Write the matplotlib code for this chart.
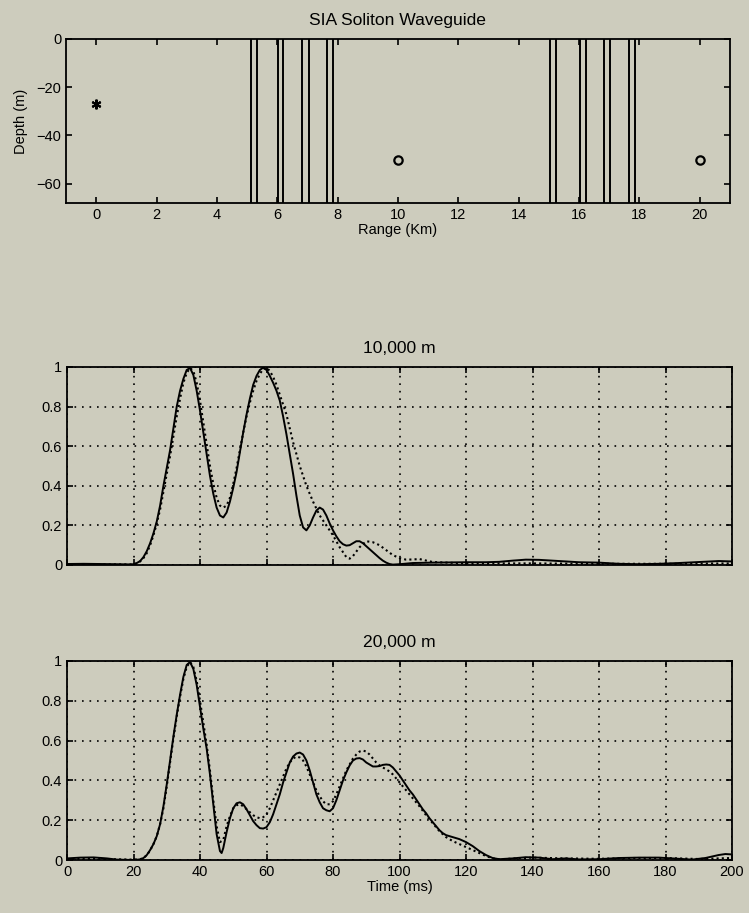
#!/usr/bin/env python3
"""SIA soliton waveguide geometry plus normalised arrivals at 10 km and 20 km."""

import matplotlib
matplotlib.use("Agg")
import matplotlib.pyplot as plt

# ---------------------------------------------------------------------------
# Data
# ---------------------------------------------------------------------------

# geometry panel
SOLITON_KM = [5.12, 5.33, 6.01, 6.20, 6.83, 7.05, 7.66, 7.86,
              15.02, 15.22, 16.04, 16.22, 16.83, 17.03, 17.65, 17.85]
SOURCE_RANGE = [0.0]
SOURCE_DEPTH = [-27.0]
RECEIVER_RANGE = [10.0, 20.0]
RECEIVER_DEPTH = [-50.0, -50.0]
RANGE_TICKS = [0, 2, 4, 6, 8, 10, 12, 14, 16, 18, 20]
DEPTH_TICKS = [-60, -40, -20, 0]
DEPTH_MIN = -68

# 10,000 m, solid
t10_solid = [0, 5, 10, 15, 19, 20, 21, 22, 23, 24, 25, 26, 27, 28, 29, 30,
             31, 32, 33, 34, 35, 36, 37, 38, 39, 40, 41, 42, 43, 44, 45, 46,
             47, 48, 49, 50, 51, 52, 53, 54, 55, 56, 57, 58, 59, 60, 61, 62,
             63, 64, 65, 66, 67, 68, 69, 70, 71, 72, 73, 74, 75, 76, 77, 78,
             79, 80, 81, 82, 83, 84, 85, 86, 87, 88, 89, 90, 91, 92, 93, 94,
             95, 96, 97, 98, 100, 104, 110, 120, 126, 130, 134, 138, 142, 148,
             154, 160, 166, 172, 178, 184, 190, 196, 200]
a10_solid = [0.005, 0.006, 0.005, 0.004, 0.003, 0.004, 0.01, 0.02, 0.04, 0.07,
             0.11, 0.16, 0.22, 0.30, 0.40, 0.49, 0.58, 0.69, 0.80, 0.88, 0.94,
             0.985, 0.995, 0.96, 0.88, 0.78, 0.67, 0.56, 0.45, 0.36, 0.29,
             0.25, 0.24, 0.265, 0.32, 0.39, 0.47, 0.57, 0.67, 0.76, 0.84, 0.91,
             0.955, 0.985, 0.997, 0.985, 0.955, 0.92, 0.88, 0.83, 0.75, 0.66,
             0.56, 0.46, 0.35, 0.25, 0.19, 0.175, 0.20, 0.24, 0.275, 0.29,
             0.28, 0.25, 0.21, 0.175, 0.145, 0.12, 0.105, 0.098, 0.10, 0.11,
             0.12, 0.12, 0.11, 0.095, 0.08, 0.065, 0.05, 0.035, 0.022, 0.012,
             0.005, 0.002, 0.004, 0.01, 0.012, 0.014, 0.014, 0.016, 0.022,
             0.027, 0.026, 0.02, 0.014, 0.012, 0.006, 0.004, 0.006, 0.01,
             0.015, 0.02, 0.018]

# 10,000 m, dotted
t10_dot = [0, 10, 20, 21, 22, 23, 24, 25, 26, 27, 28, 29, 30, 31, 32, 33, 34,
           35, 36, 37, 38, 39, 40, 41, 42, 43, 44, 45, 46, 47, 48, 49, 50, 51,
           52, 53, 54, 55, 56, 57, 58, 59, 60, 61, 62, 63, 64, 65, 66, 67, 68,
           69, 70, 71, 72, 74, 76, 78, 80, 82, 84, 85, 86, 88, 90, 92, 94, 96,
           98, 100, 102, 104, 106, 110, 120, 140, 160, 180, 200]
a10_dot = [0.003, 0.003, 0.003, 0.008, 0.018, 0.035, 0.06, 0.10, 0.15, 0.21,
           0.28, 0.37, 0.46, 0.55, 0.65, 0.75, 0.84, 0.92, 0.97, 0.995, 0.98,
           0.92, 0.83, 0.72, 0.61, 0.50, 0.41, 0.34, 0.30, 0.29, 0.30, 0.34,
           0.41, 0.49, 0.58, 0.67, 0.75, 0.82, 0.88, 0.93, 0.965, 0.99, 0.997,
           0.98, 0.95, 0.91, 0.86, 0.81, 0.76, 0.69, 0.62, 0.56, 0.50, 0.45,
           0.40, 0.32, 0.25, 0.20, 0.15, 0.09, 0.04, 0.032, 0.045, 0.09, 0.12,
           0.115, 0.10, 0.075, 0.05, 0.035, 0.027, 0.028, 0.03, 0.015, 0.008,
           0.008, 0.006, 0.006, 0.008]

# 20,000 m, solid
t20_solid = [0, 4, 8, 12, 15, 20, 22, 23, 24, 25, 26, 27, 28, 29, 30, 31, 32,
             33, 34, 35, 36, 37, 38, 39, 40, 41, 42, 43, 44, 45, 46, 46.5, 47,
             48, 49, 50, 51, 52, 53, 54, 55, 56, 57, 58, 59, 60, 61, 62, 63,
             64, 65, 66, 67, 68, 69, 70, 71, 72, 73, 74, 75, 76, 77, 78, 79,
             80, 81, 82, 83, 84, 85, 86, 87, 88, 89, 90, 91, 92, 93, 94, 95,
             96, 97, 98, 99, 100, 101, 102, 103, 104, 105, 106, 107, 108, 109,
             110, 111, 112, 113, 114, 116, 118, 120, 122, 124, 126, 128, 130,
             134, 138, 142, 146, 150, 154, 160, 166, 172, 178, 184, 188, 192,
             196, 198, 200]
a20_solid = [0.008, 0.012, 0.013, 0.008, 0.002, 0.0, 0.003, 0.01, 0.025, 0.05,
             0.08, 0.12, 0.18, 0.27, 0.38, 0.50, 0.62, 0.73, 0.83, 0.92, 0.98,
             0.995, 0.96, 0.88, 0.77, 0.66, 0.56, 0.43, 0.28, 0.13, 0.045,
             0.035, 0.06, 0.14, 0.21, 0.26, 0.285, 0.29, 0.28, 0.255, 0.225,
             0.195, 0.175, 0.16, 0.158, 0.165, 0.19, 0.23, 0.28, 0.33, 0.39,
             0.44, 0.49, 0.52, 0.535, 0.54, 0.53, 0.50, 0.45, 0.39, 0.33, 0.29,
             0.26, 0.25, 0.245, 0.26, 0.30, 0.35, 0.40, 0.44, 0.475, 0.50,
             0.51, 0.512, 0.505, 0.49, 0.48, 0.47, 0.47, 0.472, 0.478, 0.48,
             0.478, 0.465, 0.445, 0.425, 0.40, 0.375, 0.35, 0.33, 0.305, 0.28,
             0.255, 0.235, 0.21, 0.19, 0.17, 0.15, 0.135, 0.125, 0.115, 0.105,
             0.09, 0.07, 0.045, 0.025, 0.01, 0.004, 0.008, 0.014, 0.012, 0.004,
             0.008, 0.003, 0.004, 0.01, 0.012, 0.012, 0.006, 0.002, 0.01,
             0.025, 0.03, 0.028]

# 20,000 m, dotted
t20_dot = [0, 10, 20, 22, 23, 24, 25, 26, 27, 28, 29, 30, 31, 32, 33, 34, 35,
           36, 37, 38, 39, 40, 41, 42, 43, 44, 45, 46, 47, 48, 49, 50, 51, 52,
           53, 54, 55, 56, 57, 58, 59, 60, 61, 62, 63, 64, 65, 66, 67, 68, 69,
           70, 71, 72, 73, 74, 75, 76, 77, 78, 79, 80, 81, 82, 83, 84, 85, 86,
           87, 88, 89, 90, 91, 92, 93, 94, 95, 96, 97, 98, 99, 100, 102, 104,
           106, 108, 110, 112, 114, 116, 118, 120, 122, 124, 126, 128, 130, 135,
           140, 150, 160, 170, 180, 190, 200]
a20_dot = [0.005, 0.005, 0.002, 0.004, 0.01, 0.024, 0.048, 0.08, 0.12, 0.18,
           0.26, 0.37, 0.49, 0.61, 0.72, 0.82, 0.91, 0.97, 0.995, 0.97, 0.90,
           0.80, 0.69, 0.58, 0.45, 0.30, 0.17, 0.09, 0.10, 0.17, 0.22, 0.26,
           0.275, 0.28, 0.27, 0.255, 0.24, 0.225, 0.215, 0.21, 0.215, 0.23,
           0.26, 0.30, 0.34, 0.38, 0.42, 0.46, 0.49, 0.51, 0.52, 0.515, 0.50,
           0.47, 0.43, 0.39, 0.35, 0.32, 0.295, 0.28, 0.28, 0.295, 0.33, 0.37,
           0.41, 0.45, 0.48, 0.51, 0.53, 0.545, 0.55, 0.545, 0.53, 0.51, 0.49,
           0.475, 0.465, 0.455, 0.445, 0.43, 0.41, 0.39, 0.35, 0.31, 0.27,
           0.225, 0.185, 0.145, 0.115, 0.095, 0.08, 0.065, 0.05, 0.035, 0.02,
           0.008, 0.003, 0.008, 0.012, 0.008, 0.006, 0.01, 0.01, 0.005, 0.01]

TIME_TICKS = [0, 20, 40, 60, 80, 100, 120, 140, 160, 180, 200]
AMP_TICKS = [0, 0.2, 0.4, 0.6, 0.8, 1]
AMP_LABELS = ["0", "0.2", "0.4", "0.6", "0.8", "1"]

# ---------------------------------------------------------------------------
# Style
# ---------------------------------------------------------------------------

BG = "#cdccbd"
INK = "black"

plt.rcParams["font.family"] = ["Liberation Sans", "DejaVu Sans"]
plt.rcParams["font.size"] = 10.5
plt.rcParams["axes.linewidth"] = 1.3
plt.rcParams["xtick.direction"] = "in"
plt.rcParams["ytick.direction"] = "in"
plt.rcParams["xtick.major.size"] = 4
plt.rcParams["ytick.major.size"] = 4
plt.rcParams["xtick.major.width"] = 1.2
plt.rcParams["ytick.major.width"] = 1.2
plt.rcParams["xtick.top"] = True
plt.rcParams["ytick.right"] = True

W, H = 749, 913
fig = plt.figure(figsize=(W / 100, H / 100), dpi=100, facecolor=BG)


def frac(left, top, right, bottom):
    return [left / W, 1 - bottom / H, (right - left) / W, (bottom - top) / H]


# ---------------------------------------------------------------------------
# 1. Geometry
# ---------------------------------------------------------------------------

ax0 = fig.add_axes(frac(66, 39, 730, 203), facecolor=BG)
for x in SOLITON_KM:
    ax0.axvline(x, color=INK, lw=1.4)
ax0.plot(SOURCE_RANGE, SOURCE_DEPTH, ls="none", marker=(6, 2, 0),
         ms=7, mew=1.5, color=INK)
ax0.plot(RECEIVER_RANGE, RECEIVER_DEPTH, ls="none", marker="o", ms=6,
         mfc="none", mec=INK, mew=1.6)
ax0.set_xlim(-1, 21)
ax0.set_ylim(DEPTH_MIN, 0)
ax0.set_xticks(RANGE_TICKS)
ax0.set_yticks(DEPTH_TICKS)
ax0.set_title("SIA Soliton Waveguide", pad=10)
ax0.set_xlabel("Range (Km)", labelpad=1)
ax0.set_ylabel("Depth (m)", labelpad=6)

# ---------------------------------------------------------------------------
# 2. Arrivals
# ---------------------------------------------------------------------------


def arrival_panel(box, t_solid, a_solid, t_dot, a_dot, title, show_x):
    ax = fig.add_axes(frac(*box), facecolor=BG)
    ax.grid(True, color=INK, lw=1.2, ls=(0, (1, 3.5)))
    ax.plot(t_dot, a_dot, color=INK, lw=1.5, ls=(0, (1, 1.5)))
    ax.plot(t_solid, a_solid, color=INK, lw=1.4)
    ax.set_xlim(0, 200)
    ax.set_ylim(0, 1)
    ax.set_xticks(TIME_TICKS)
    ax.set_yticks(AMP_TICKS)
    ax.set_yticklabels(AMP_LABELS)
    ax.set_title(title, pad=10)
    if show_x:
        ax.set_xlabel("Time (ms)", labelpad=1)
    else:
        ax.set_xticklabels([])
    return ax


arrival_panel((67, 367, 732, 565), t10_solid, a10_solid, t10_dot, a10_dot,
              "10,000 m", False)
arrival_panel((67, 661, 732, 860), t20_solid, a20_solid, t20_dot, a20_dot,
              "20,000 m", True)

fig.savefig("out.png", dpi=100, facecolor=BG)
